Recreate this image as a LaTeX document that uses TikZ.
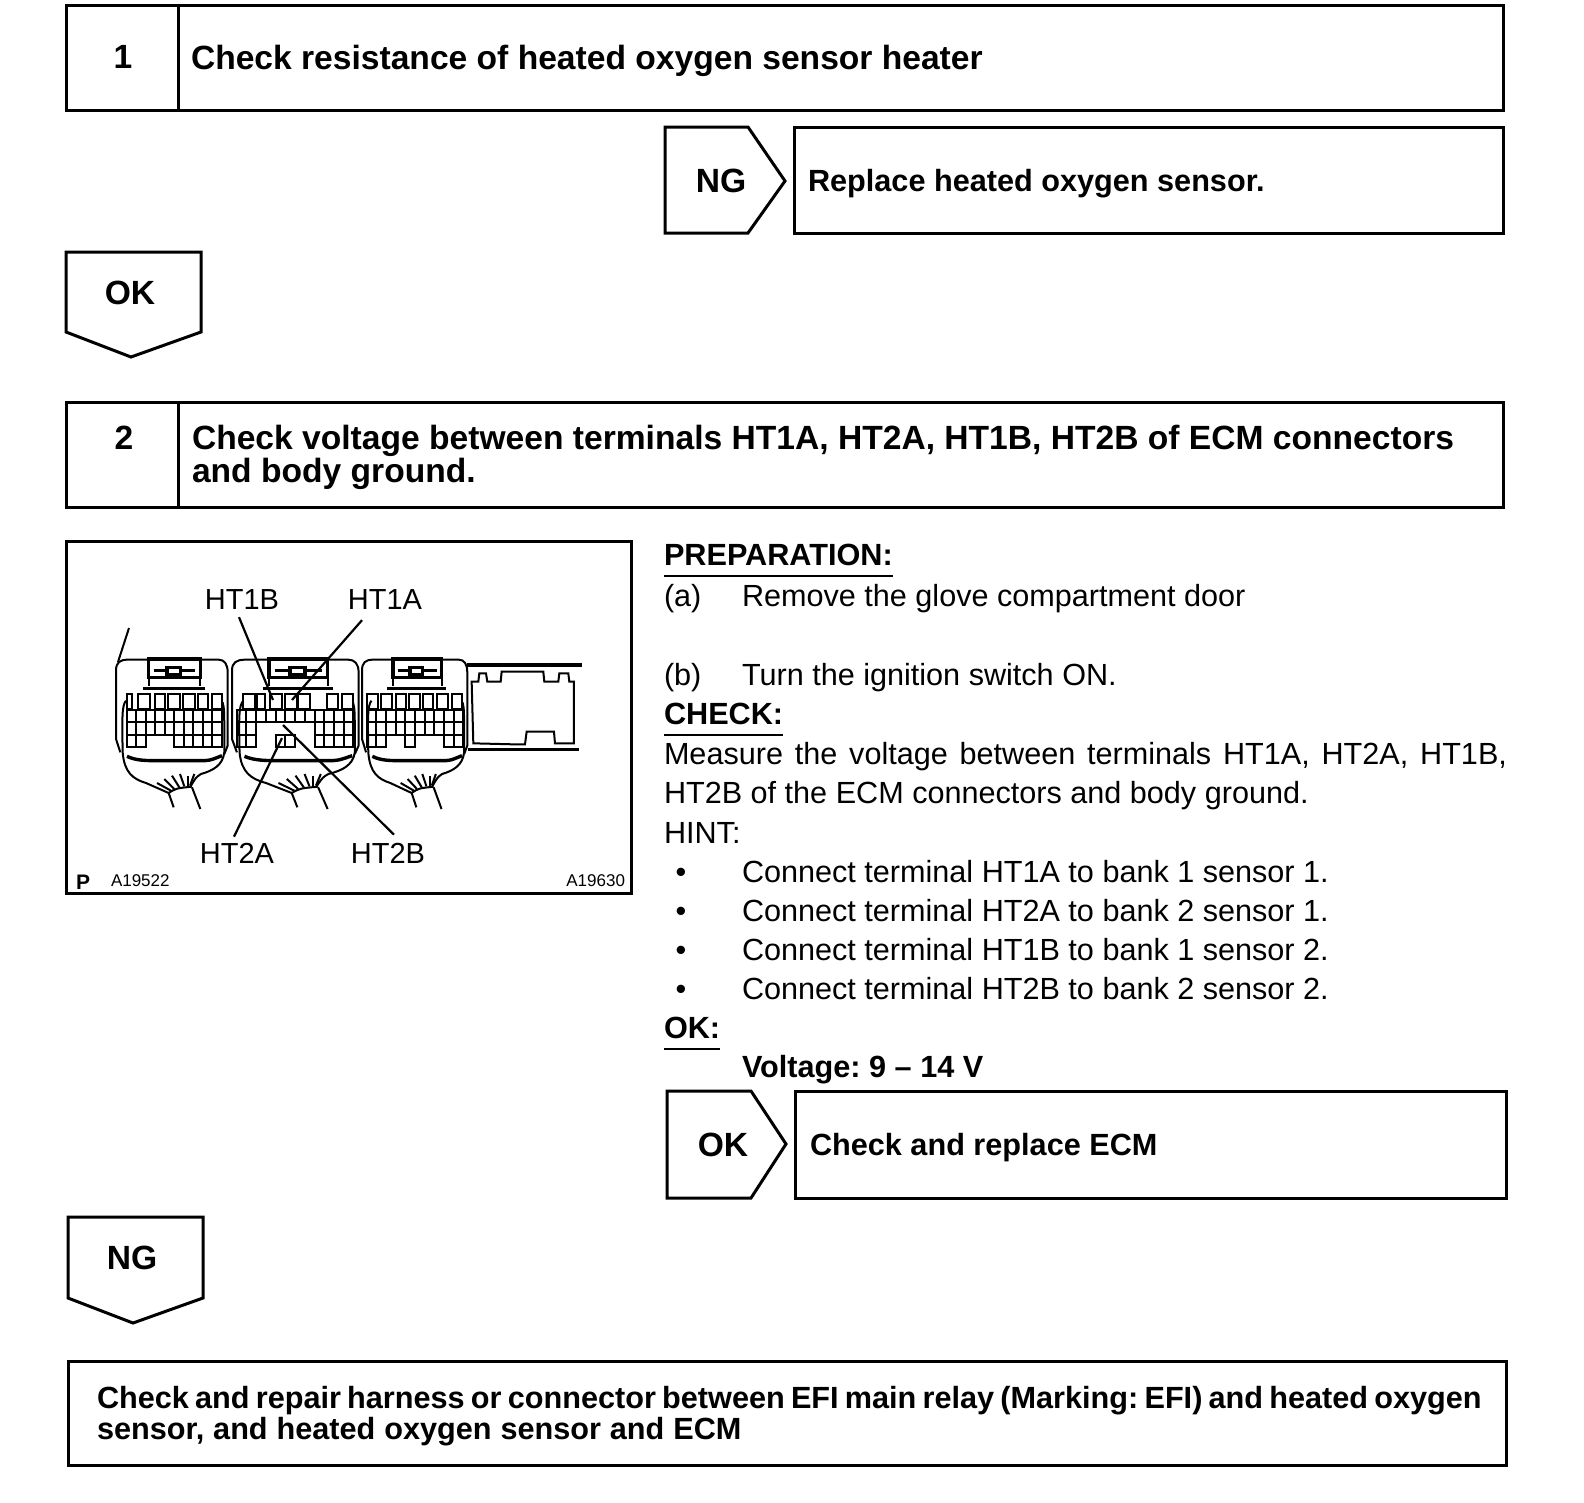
\documentclass[tikz,border=0pt]{standalone}
\usepackage{fontspec}
\setmainfont{Liberation Sans}
\usepackage{xcolor}
\usepackage{tikz}
\usetikzlibrary{calc}
\frenchspacing

\newcommand{\bodysize}{\fontsize{30.6}{36}\selectfont}
\newcommand{\titlesize}{\fontsize{33.6}{38}\bfseries\selectfont}
\newcommand{\leadsize}{\fontsize{30.65}{36}\bfseries\selectfont}
\newcommand{\smallsize}{\fontsize{17}{20}\selectfont}
\tikzset{
  framebox/.style={draw=black, line width=3pt, anchor=north west, inner sep=0pt, outer sep=0pt},
  signbox/.style={draw=black, line width=3pt, line join=miter},
  txt/.style={anchor=base west, inner sep=0pt, outer sep=0pt, yshift=1pt, font=\bodysize},
  bold/.style={txt, font=\titlesize},
  lead/.style={txt, font=\leadsize},
  mid/.style={anchor=base, inner sep=0pt, outer sep=0pt, yshift=1pt, font=\titlesize},
  part/.style={anchor=center, inner sep=0pt, font=\fontsize{29}{34}\selectfont},
  pointer/.style={black, line width=2.2pt},
  thin line/.style={black, line width=2pt},
  rule line/.style={black, line width=1.6pt},
  heavy line/.style={black, line width=3.4pt}
}
% outline of one connector, drawn in thirds of a pixel
\newcommand{\connshell}{
  \draw[thin line] (13,280) -- (0,240) -- (0,35) .. controls (0,10) and (12,2) .. (35,2) -- (98,2);
  \draw[thin line] (253,2) -- (308,2) .. controls (325,2) and (335,15) .. (335,40) -- (335,260) -- (325,285);
  \draw[heavy line] (98,55) rectangle (253,0);
  \draw[heavy line] (153,25) rectangle (193,48);
  \draw[heavy line] (113,35) -- (153,35) (193,35) -- (238,35);
  \draw[thin line] (98,55) -- (98,80) (253,55) -- (253,80);
  \draw[heavy line] (81,88) -- (268,88);
  \draw[heavy line] (33,292) .. controls (60,305) and (90,305) .. (130,305) -- (250,305) .. controls (280,305) .. (318,290);
  \draw[thin line] (30,125) .. controls (18,140) and (18,170) .. (20,280) .. controls (25,340) and (50,360) .. (90,372) -- (158,402);
  \draw[thin line] (320,130) .. controls (325,150) .. (325,280) .. controls (320,320) and (290,335) .. (255,345) .. controls (240,355) .. (225,380);
  \draw[thin line] (158,402) .. controls (180,388) .. (228,383);
  \draw[thin line] (158,402) -- (173,445) (228,385) -- (253,450);
  \foreach \a/\b/\c/\d in {165/395/123/372, 175/390/145/360, 190/385/168/350, 205/382/192/345, 215/382/215/350, 222/380/235/345}
    {\draw[thin line] (\a,\b) -- (\c,\d);}
}
\newcommand{\termrow}[4]{\foreach \k in {#4}{\draw[thin line] ({#1+\k*#2},#3) rectangle ++(#2,37);}}
\newcommand{\termtop}[1]{\foreach \a/\b in {#1}{\draw[thin line] (\a,162) rectangle (\b,208);}}

\begin{document}
\begin{tikzpicture}[x=1pt, y=-1pt]
  \useasboundingbox (0,0) rectangle (1584,1502);

  % step 1
  \node[framebox, minimum width=112pt, minimum height=105pt] (numone) at (66,5) {};
  \node[framebox, minimum width=1325pt, minimum height=105pt] (titleone) at (178,5) {};
  \node[mid] (numonetext) at (123,69) {1};
  \node[bold] (titleonetext) at (191,70) {Check resistance of heated oxygen sensor heater};

  \draw[signbox] (665,127) -- (748,127) -- (785,181) -- (748,233) -- (665,233) -- cycle;
  \node[mid] (ngone) at (721,193) {NG};
  \node[framebox, minimum width=709pt, minimum height=106pt] (replacebox) at (794,127) {};
  \node[lead] (replacetext) at (808,192) {Replace heated oxygen sensor.};

  \draw[signbox] (66,252) -- (201,252) -- (201,332) -- (131,357) -- (66,332) -- cycle;
  \node[mid] (okone) at (130,305) {OK};

  % step 2
  \node[framebox, minimum width=112pt, minimum height=105pt] (numtwo) at (66,402) {};
  \node[framebox, minimum width=1325pt, minimum height=105pt] (titletwo) at (178,402) {};
  \node[mid] (numtwotext) at (124,450) {2};
  \node[bold] (titletwotexta) at (192,450) {Check voltage between terminals HT1A, HT2A, HT1B, HT2B of ECM connectors};
  \node[bold] (titletwotextb) at (192,483) {and body ground.};

  % connector picture
  \node[framebox, minimum width=565pt, minimum height=352pt] (photo) at (66,541) {};
  \draw[thin line] (129,628) -- (118,662);
  \begin{scope}[shift={(116,659)}, x=0.3333pt, y=-0.3333pt]
    \connshell
  \end{scope}
  \begin{scope}[shift={(232,659)}, x=1.134*0.3333pt, y=-0.3333pt]
    \connshell
  \end{scope}
  \begin{scope}[shift={(362,659)}, x=0.943*0.3333pt, y=-0.3333pt]
    \connshell
  \end{scope}
  \begin{scope}[shift={(100,640)}, x=0.3333pt, y=-0.3333pt]
    \termtop{80/95, 115/150, 165/195, 205/240, 250/285, 295/325, 335/365}
    \termrow{80}{28.5}{210}{0,...,9}
    \termrow{80}{28.5}{247}{0,...,9}
    \termrow{80}{28.5}{284}{0,1,5,6,7,8,9}
    \termtop{430/465, 470/495, 510/545, 555/590, 595/630, 680/715, 725/760}
    \termrow{410}{29.2}{210}{0,...,11}
    \termrow{410}{29.2}{247}{0,1,8,9,10,11}
    \termrow{410}{29.2}{284}{0,1,4,5,8,9,10,11}
  \end{scope}
  \begin{scope}[shift={(350,640)}, x=0.3333pt, y=-0.3333pt]
    \termtop{50/85, 92/125, 137/167, 178/210, 220/250, 262/295, 305/335}
    \termrow{50}{29}{210}{0,...,9}
    \termrow{50}{29}{247}{0,...,9}
    \termrow{50}{29}{284}{0,1,4,8,9}
    \draw[heavy line] (350,75) -- (695,75) (355,328) -- (688,328);
    \draw[thin line] (365,125) -- (385,125) -- (388,100) -- (408,100) -- (412,125) -- (452,125) -- (455,95) -- (580,95) -- (583,125) -- (625,125) -- (628,100) -- (655,100) -- (658,125) -- (672,125) -- (672,310) -- (615,310) -- (612,275) -- (530,275) -- (525,313) -- (490,313) -- (370,310) -- cycle;
  \end{scope}

  \node[part] (labelbb) at (242,600) {HT1B};
  \node[part] (labelaa) at (385,600) {HT1A};
  \node[part] (labelab) at (237,853) {HT2A};
  \node[part] (labelba) at (388,853) {HT2B};
  \coordinate (termbb) at (273,700);
  \coordinate (termaa) at (292,700);
  \coordinate (termab) at (282,738);
  \coordinate (termba) at (283,725);
  \draw[pointer] ($(labelbb.south)+(-3,7)$) -- (termbb);
  \draw[pointer] ($(labelaa.south)+(-23,10)$) -- (termaa);
  \draw[pointer] ($(labelab.north)+(-3,-6)$) -- (termab);
  \draw[pointer] ($(labelba.north)+(6,-8)$) -- (termba);
  \node[anchor=base west, inner sep=0pt, font=\fontsize{21}{24}\bfseries\selectfont] (pmark) at (76,889) {P};
  \node[txt, font=\smallsize] (codeleft) at (111,887) {A19522};
  \node[txt, anchor=base east, font=\smallsize] (coderight) at (625,887) {A19630};

  % right column
  \node[lead] (prep) at (664,566) {PREPARATION:};
  \draw[rule line] (prep.base west |- 0,576) -- (prep.base east |- 0,576);
  \node[txt] (marka) at (664,607) {(a)};
  \node[txt] (texta) at (742,607) {Remove the glove compartment door};
  \node[txt] (markb) at (664,686) {(b)};
  \node[txt] (textb) at (742,686) {Turn the ignition switch ON.};
  \node[lead] (check) at (664,725) {CHECK:};
  \draw[rule line] (check.base west |- 0,735) -- (check.base east |- 0,735);
  \node[txt] (measure) at (664,765) {\hbox to 843pt{Measure the voltage between terminals HT1A, HT2A, HT1B,}};
  \node[txt] (measureb) at (664,804) {HT2B of the ECM connectors and body ground.};
  \node[txt] (hint) at (664,844) {HINT:};
  \foreach \i/\y/\t in {1/883/HT1A to bank 1 sensor 1., 2/922/HT2A to bank 2 sensor 1., 3/961/HT1B to bank 1 sensor 2., 4/1000/HT2B to bank 2 sensor 2.}{
    \node[txt, anchor=base] (dot\i) at (681,\y) {\textbullet};
    \node[txt] (hint\i) at (742,\y) {Connect terminal \t};
  }
  \node[lead] (okhead) at (664,1039) {OK:};
  \draw[rule line] (okhead.base west |- 0,1049) -- (okhead.base east |- 0,1049);
  \node[lead] (voltage) at (742,1078) {Voltage: 9 -- 14 V};

  \draw[signbox] (667,1091) -- (751,1091) -- (786,1144) -- (751,1198) -- (667,1198) -- cycle;
  \node[mid] (oktwo) at (723,1157) {OK};
  \node[framebox, minimum width=711pt, minimum height=107pt] (ecmbox) at (795,1091) {};
  \node[lead] (ecmtext) at (810,1156) {Check and replace ECM};

  \draw[signbox] (68,1217) -- (203,1217) -- (203,1298) -- (133,1323) -- (68,1298) -- cycle;
  \node[mid] (ngtwo) at (132,1270) {NG};

  % last step
  \node[framebox, minimum width=1438pt, minimum height=104pt] (repairbox) at (68,1361) {};
  \node[lead] (repaira) at (97,1409) {\spaceskip=6.2pt\relax Check and repair harness or connector between EFI main relay (Marking: EFI) and heated oxygen};
  \node[lead] (repairb) at (97,1440) {\spaceskip=8.9pt\relax sensor, and heated oxygen sensor and ECM};
\end{tikzpicture}
\end{document}
